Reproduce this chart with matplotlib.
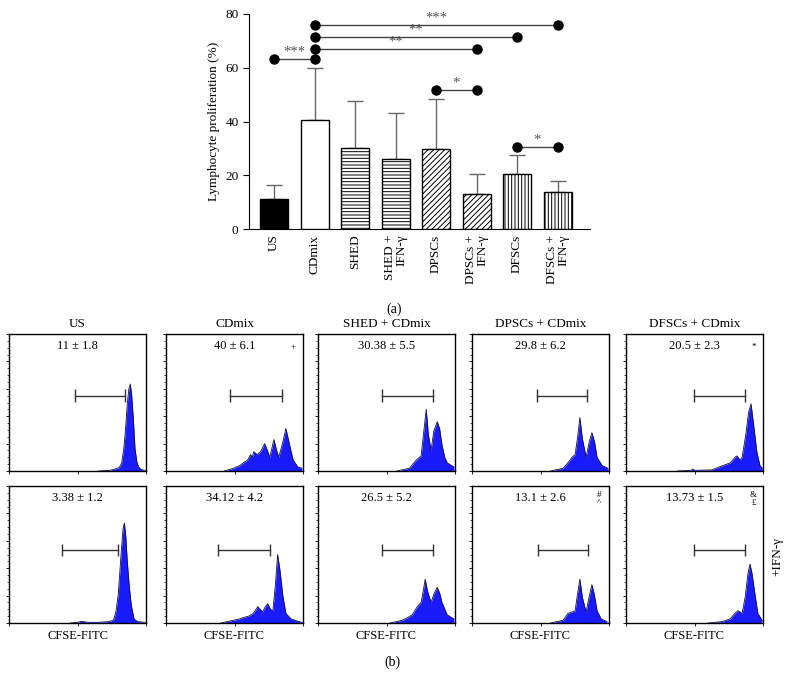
import matplotlib.pyplot as plt
import numpy as np

plt.rcParams['font.family'] = ['Liberation Serif', 'DejaVu Serif']
plt.rcParams['hatch.linewidth'] = 0.7

# ---------------- (a) bar chart data ----------------
groups = ['US', 'CDmix', 'SHED', 'SHED +\nIFN-γ', 'DPSCs', 'DPSCs +\nIFN-γ',
          'DFSCs', 'DFSCs +\nIFN-γ']
prolif_mean = [11.0, 40.4, 30.2, 26.1, 29.7, 13.0, 20.4, 13.6]
prolif_err = [5.5, 19.6, 17.3, 16.9, 18.8, 7.3, 7.2, 4.4]

# significance brackets (bar index pairs)
sig_left = [0, 1, 1, 1, 4, 6]
sig_right = [1, 5, 6, 7, 5, 7]
sig_y = [63.3, 67.0, 71.4, 75.9, 51.7, 30.5]
sig_text = ['***', '**', '**', '***', '*', '*']

# ---------------- (b) CFSE histogram data ----------------
col_titles = ['US', 'CDmix', 'SHED + CDmix', 'DPSCs + CDmix', 'DFSCs + CDmix']
row1_values = ['11 ± 1.8', '40 ± 6.1', '30.38 ± 5.5', '29.8 ± 6.2', '20.5 ± 2.3']
row2_values = ['3.38 ± 1.2', '34.12 ± 4.2', '26.5 ± 5.2', '13.1 ± 2.6', '13.73 ± 1.5']
row1_marks = ['', '+', '', '', '*']
row2_marks = ['', '', '', '#\n^', '&\n£']

# gate limits, in log10 decades of CFSE intensity
gate_lo_r1 = [1.93, 1.88, 1.88, 1.90, 1.99]
gate_hi_r1 = [3.40, 3.38, 3.36, 3.36, 3.47]
gate_lo_r2 = [1.55, 1.53, 1.88, 1.93, 1.99]
gate_hi_r2 = [3.17, 3.03, 3.36, 3.39, 3.47]

# histogram outlines: x in decades, y as fraction of max
us_x = [2.6, 2.95, 3.1, 3.22, 3.29, 3.35, 3.40, 3.45, 3.50, 3.54, 3.58, 3.63, 3.68, 3.73, 3.78, 3.86, 3.97]
us_y = [0.0, 0.005, 0.015, 0.025, 0.06, 0.16, 0.30, 0.48, 0.60, 0.635, 0.56, 0.38, 0.16, 0.07, 0.03, 0.01, 0.005]
cd_x = [1.7, 1.97, 2.15, 2.26, 2.38, 2.47, 2.52, 2.56, 2.66, 2.76, 2.88, 2.96, 3.03, 3.15, 3.22, 3.29, 3.40, 3.50, 3.60, 3.71, 3.85, 3.97]
cd_y = [0.0, 0.02, 0.04, 0.06, 0.08, 0.12, 0.10, 0.14, 0.12, 0.14, 0.20, 0.15, 0.10, 0.23, 0.16, 0.10, 0.20, 0.31, 0.20, 0.08, 0.03, 0.02]
shed_x = [2.3, 2.67, 2.80, 2.87, 3.01, 3.08, 3.16, 3.22, 3.30, 3.38, 3.48, 3.55, 3.62, 3.70, 3.77, 3.97]
shed_y = [0.0, 0.02, 0.06, 0.08, 0.11, 0.27, 0.45, 0.27, 0.15, 0.29, 0.36, 0.31, 0.19, 0.10, 0.06, 0.03]
dpsc_x = [2.3, 2.66, 2.80, 2.92, 3.01, 3.08, 3.15, 3.22, 3.33, 3.42, 3.50, 3.58, 3.65, 3.80, 3.97]
dpsc_y = [0.0, 0.02, 0.06, 0.10, 0.12, 0.24, 0.39, 0.24, 0.10, 0.21, 0.28, 0.21, 0.10, 0.04, 0.02]
dfsc_x = [1.5, 1.9, 1.95, 2.0, 2.5, 2.83, 3.05, 3.18, 3.24, 3.33, 3.39, 3.50, 3.58, 3.65, 3.72, 3.82, 3.91, 3.98]
dfsc_y = [0.0, 0.005, 0.015, 0.005, 0.008, 0.04, 0.06, 0.10, 0.11, 0.08, 0.10, 0.27, 0.43, 0.49, 0.35, 0.14, 0.04, 0.02]

us_ifn_x = [1.8, 2.0, 2.13, 2.3, 2.6, 2.9, 3.05, 3.12, 3.19, 3.28, 3.33, 3.37, 3.41, 3.45, 3.51, 3.57, 3.65, 3.75, 3.97]
us_ifn_y = [0.0, 0.005, 0.012, 0.005, 0.005, 0.01, 0.02, 0.08, 0.21, 0.53, 0.69, 0.73, 0.63, 0.46, 0.27, 0.13, 0.03, 0.01, 0.005]
cd_ifn_x = [1.6, 1.97, 2.15, 2.26, 2.41, 2.55, 2.68, 2.75, 2.82, 2.90, 2.97, 3.05, 3.12, 3.19, 3.26, 3.33, 3.41, 3.50, 3.65, 3.88, 3.98]
cd_ifn_y = [0.0, 0.02, 0.03, 0.04, 0.05, 0.07, 0.12, 0.10, 0.08, 0.12, 0.14, 0.10, 0.09, 0.27, 0.50, 0.38, 0.20, 0.07, 0.03, 0.01, 0.005]
shed_ifn_x = [2.1, 2.46, 2.62, 2.75, 2.90, 3.01, 3.07, 3.13, 3.20, 3.30, 3.38, 3.48, 3.55, 3.62, 3.77, 3.97]
shed_ifn_y = [0.0, 0.02, 0.04, 0.06, 0.12, 0.15, 0.23, 0.32, 0.23, 0.15, 0.21, 0.26, 0.22, 0.15, 0.06, 0.03]
dpsc_ifn_x = [2.3, 2.66, 2.80, 2.92, 3.01, 3.08, 3.15, 3.22, 3.33, 3.42, 3.50, 3.57, 3.65, 3.77, 3.94]
dpsc_ifn_y = [0.0, 0.02, 0.07, 0.08, 0.09, 0.21, 0.32, 0.19, 0.08, 0.19, 0.28, 0.21, 0.09, 0.03, 0.01]
dfsc_ifn_x = [2.4, 2.8, 3.04, 3.18, 3.27, 3.33, 3.39, 3.48, 3.56, 3.62, 3.68, 3.77, 3.85, 3.97]
dfsc_ifn_y = [0.0, 0.01, 0.03, 0.07, 0.09, 0.08, 0.07, 0.19, 0.36, 0.43, 0.36, 0.20, 0.07, 0.02]

row1_hist = [(us_x, us_y), (cd_x, cd_y), (shed_x, shed_y), (dpsc_x, dpsc_y), (dfsc_x, dfsc_y)]
row2_hist = [(us_ifn_x, us_ifn_y), (cd_ifn_x, cd_ifn_y), (shed_ifn_x, shed_ifn_y),
             (dpsc_ifn_x, dpsc_ifn_y), (dfsc_ifn_x, dfsc_ifn_y)]

W, H = 789, 675
fig = plt.figure(figsize=(W / 100, H / 100), dpi=100)


def px_rect(left, top, width, height):
    return [left / W, 1 - (top + height) / H, width / W, height / H]


# ---------------- draw (a) ----------------
ax = fig.add_axes(px_rect(249, 14, 341, 215))
xpos = np.arange(len(groups))
faces = ['black', 'white', 'white', 'white', 'white', 'white', 'white', 'white']
hatches = ['', '', '-----', '-----', '//////', '//////', '|||||', '|||||']
bars = ax.bar(xpos, prolif_mean, width=0.69, color=faces, edgecolor='black',
              linewidth=1.0, zorder=3)
for b, h in zip(bars, hatches):
    b.set_hatch(h)
ax.errorbar(xpos, prolif_mean, yerr=[np.zeros(len(xpos)), prolif_err], fmt='none',
            ecolor='#666666', elinewidth=1.0, capsize=6, capthick=1.0, zorder=2)

for l, r, y, t in zip(sig_left, sig_right, sig_y, sig_text):
    ax.plot([l, r], [y, y], color='#444444', lw=1.0, zorder=4, clip_on=False)
    ax.plot([l, r], [y, y], 'o', color='black', ms=6.5, zorder=5, clip_on=False)
    ax.annotate(t, ((l + r) / 2, y), xytext=(0, 0.5), textcoords='offset points',
                ha='center', va='bottom', fontsize=10.5, color='#555555')

ax.set_xlim(-0.62, 7.8)
ax.set_ylim(0, 80)
ax.set_yticks([0, 20, 40, 60, 80])
ax.set_xticks(xpos)
ax.set_xticklabels(groups, rotation=90, ha='center', va='top', multialignment='right',
                   linespacing=0.95)
ax.tick_params(axis='x', length=0, pad=4, labelsize=9.5)
ax.tick_params(axis='y', direction='out', length=4, labelsize=9.5)
ax.set_ylabel('Lymphocyte proliferation (%)', fontsize=9.5)
for s in ['top', 'right']:
    ax.spines[s].set_visible(False)

fig.text(394 / W, 1 - 309 / H, '(a)', ha='center', va='center', fontsize=10)

# ---------------- draw (b) ----------------
col_left = [9, 166, 318, 472, 626]
row_top = [334, 486]
gate_y = [0.55, 0.535]

rows = [(row1_hist, row1_values, row1_marks, gate_lo_r1, gate_hi_r1),
        (row2_hist, row2_values, row2_marks, gate_lo_r2, gate_hi_r2)]

for r, (hists, values, marks, glo, ghi) in enumerate(rows):
    for c in range(5):
        hx = fig.add_axes(px_rect(col_left[c], row_top[r], 137, 137))
        xd, yd = hists[c]
        xs = 10.0 ** np.array(xd)
        hx.fill_between(xs, 0, yd, color='#1a1aff', lw=0, zorder=2)
        hx.plot(xs, yd, color='#101040', lw=0.6, zorder=3)
        # gate marker
        g0, g1 = 10.0 ** glo[c], 10.0 ** ghi[c]
        hx.plot([g0, g1], [gate_y[r], gate_y[r]], color='#333333', lw=1.0)
        hx.vlines([g0, g1], gate_y[r] - 0.045, gate_y[r] + 0.045, color='#333333', lw=1.0)

        hx.set_xscale('log')
        hx.set_xlim(1, 1e4)
        hx.set_ylim(0, 1)
        hx.set_yticks(np.arange(0, 1.01, 0.2))
        hx.set_yticks(np.arange(0, 1.01, 0.05), minor=True)
        hx.tick_params(which='both', direction='out', labelbottom=False, labelleft=False)
        hx.tick_params(which='major', length=2.5, width=0.6)
        hx.tick_params(which='minor', length=1.5, width=0.5)
        for s in hx.spines.values():
            s.set_linewidth(1.0)

        hx.text(0.5, 0.915, values[c], transform=hx.transAxes, ha='center',
                va='center', fontsize=9)
        if marks[c]:
            hx.text(0.93, 0.905, marks[c], transform=hx.transAxes, ha='center',
                    va='center', fontsize=6.5, linespacing=1.1)
        if r == 0:
            hx.text(0.5, 1.03, col_titles[c], transform=hx.transAxes, ha='center',
                    va='bottom', fontsize=9.5)
        else:
            hx.text(0.5, -0.05, 'CFSE-FITC', transform=hx.transAxes, ha='center',
                    va='top', fontsize=9)

fig.text(777 / W, 1 - 557 / H, '+IFN-γ', rotation=90, ha='center', va='center', fontsize=9.5)
fig.text(392 / W, 1 - 662 / H, '(b)', ha='center', va='center', fontsize=10)

fig.savefig('out.png', dpi=100)
